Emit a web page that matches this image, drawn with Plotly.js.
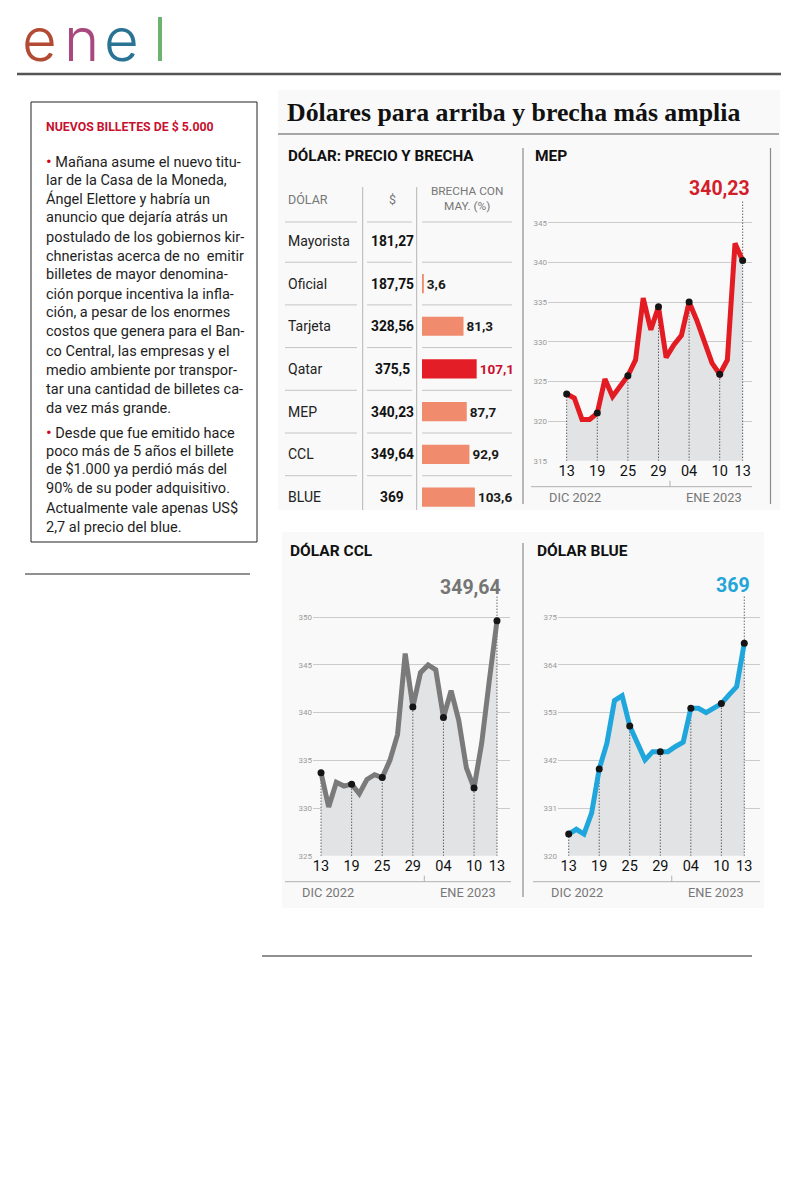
<!DOCTYPE html>
<html><head><meta charset="utf-8">
<script src="https://cdn.plot.ly/plotly-3.0.1.min.js"></script>
<style>html,body{margin:0;padding:0;background:#fff}#chart{width:800px;height:1200px}</style>
</head><body><div id="chart"></div>
<script>
// ---------- DATA ----------
const fechas = ['13 dic','14 dic','15 dic','16 dic','19 dic','20 dic','21 dic','22 dic','23 dic','26 dic','27 dic','28 dic','29 dic','30 dic','2 ene','3 ene','4 ene','5 ene','6 ene','9 ene','10 ene','11 ene','12 ene','13 ene'];
const fechasMarcadas = ['13 dic','19 dic','23 dic','29 dic','4 ene','10 ene','13 ene'];
const etiquetasFecha = ['13','19','25','29','04','10','13'];
const mep  = [323.4,322.9,320.2,320.2,321.0,325.3,323.1,324.3,325.7,327.7,335.5,331.5,334.4,328.0,329.6,330.8,335.0,332.7,329.8,327.3,325.9,327.7,342.4,340.23];
const ccl  = [333.7,330.1,332.7,332.3,332.5,331.5,333.0,333.5,333.2,335.0,337.7,346.2,340.6,344.2,345.0,344.5,339.5,342.3,339.2,334.2,332.1,336.8,343.4,349.64];
const blue = [325.0,326.1,325.0,329.8,340.0,345.9,355.8,356.9,349.9,345.9,342.1,344.0,344.0,344.0,345.2,346.2,354.0,354.0,353.0,354.0,355.1,357.1,359.0,369];
const tiposDolar = ['Mayorista','Oficial','Tarjeta','Qatar','MEP','CCL','BLUE'];
const precios = [181.27,187.75,328.56,375.5,340.23,349.64,369];
const brecha  = [null,3.6,81.3,107.1,87.7,92.9,103.6];
const mesIzq = 'DIC 2022', mesDer = 'ENE 2023';
const titulo = 'Dólares para arriba y brecha más amplia';
const recuadroTitulo = 'NUEVOS BILLETES DE $ 5.000';
const parrafo1 = ['Mañana asume el nuevo titu-','lar de la Casa de la Moneda,','Ángel Elettore y habría un','anuncio que dejaría atrás un','postulado de los gobiernos kir-','chneristas acerca de no  emitir','billetes de mayor denomina-','ción porque incentiva la infla-','ción, a pesar de los enormes','costos que genera para el Ban-','co Central, las empresas y el','medio ambiente por transpor-','tar una cantidad de billetes ca-','da vez más grande.'];
const parrafo2 = ['Desde que fue emitido hace','poco más de 5 años el billete','de $1.000 ya perdió más del','90% de su poder adquisitivo.','Actualmente vale apenas US$','2,7 al precio del blue.'];
const logoLetras = ['e','n','e','l'];

// ---------- HELPERS ----------
const W = 800, H = 1200;
const px = x => x / W, py = y => 1 - y / H;
const FONT = 'Roboto, "Open Sans", sans-serif';
const fmt = v => String(v).replace('.', ',');
const traces = [], shapes = [], annotations = [];
const layout = {
  width: W, height: H, margin: {l:0, r:0, t:0, b:0},
  paper_bgcolor: '#ffffff', plot_bgcolor: 'rgba(0,0,0,0)',
  showlegend: false, font: {family: FONT, color: '#222'},
  shapes, annotations
};
function hline(x0, x1, y, color, w) { shapes.push({type:'line', xref:'paper', yref:'paper', x0:px(x0), x1:px(x1), y0:py(y), y1:py(y), line:{color, width:w}}); }
function vline(x, y0, y1, color, w) { shapes.push({type:'line', xref:'paper', yref:'paper', x0:px(x), x1:px(x), y0:py(y0), y1:py(y1), line:{color, width:w}}); }
function txt(text, x, y, size, opts) {
  annotations.push(Object.assign({text, xref:'paper', yref:'paper', x:px(x), y:py(y), showarrow:false,
    xanchor:'left', yanchor:'middle', font:{family:FONT, size, color:'#222'}}, opts || {}));
}

// ---------- HEADER / LOGO ----------
const logoColores = ['#b34a33','#a9477f','#2a7394','#6bb36f'];
const logoX = [39, 81, 121, 160];
logoLetras.forEach((l, i) => annotations.push({xref:'paper', yref:'paper', x:px(logoX[i]), y:py(77), xanchor:'center', yanchor:'bottom', showarrow:false,
  text:l, font:{family:'Inter, Lato, "Open Sans", sans-serif', size:60, weight:300, color:logoColores[i]}}));
hline(17, 781, 74, '#555555', 2.5);

// ---------- LEFT BOX ----------
shapes.push({type:'rect', xref:'paper', yref:'paper', x0:px(31), x1:px(257), y0:py(542), y1:py(102), line:{color:'#222', width:1}});
txt('<b>' + recuadroTitulo + '</b>', 44, 127, 12.3, {font:{family:FONT, size:12.3, color:'#c8102e', weight:700}});
const bullet = '<span style="color:#d0021b;font-size:17px">•</span> ';
parrafo1.forEach((l, i) => txt((i === 0 ? bullet : '') + l, 44, 161 + i * 19, 14.5, {font:{family:FONT, size:14.5, color:'#1e1e1e'}}));
parrafo2.forEach((l, i) => txt((i === 0 ? bullet : '') + l, 44, 432 + i * 19, 14.5, {font:{family:FONT, size:14.5, color:'#1e1e1e'}}));
hline(25, 250, 574, '#222', 1);

// ---------- INFOGRAPHIC BACKGROUNDS ----------
shapes.push({type:'rect', layer:'below', xref:'paper', yref:'paper', x0:px(278), x1:px(780), y0:py(510), y1:py(90), fillcolor:'#f9f9f9', line:{width:0}});
shapes.push({type:'rect', layer:'below', xref:'paper', yref:'paper', x0:px(282), x1:px(764), y0:py(908), y1:py(532), fillcolor:'#f9f9f9', line:{width:0}});
txt('<b>' + titulo + '</b>', 285, 113, 25.8, {font:{family:'"Liberation Serif", "DejaVu Serif", serif', size:25.8, color:'#111'}});
hline(278, 779, 134, '#8a8a8a', 1.5);
hline(262, 752, 956, '#222', 1);

// ---------- TABLE ----------
txt('<b>DÓLAR: PRECIO Y BRECHA</b>', 286, 156, 15.2, {font:{family:FONT, size:15.2, color:'#111'}});
txt('DÓLAR', 286, 200, 12.5, {font:{family:FONT, size:12.5, color:'#777'}});
txt('$', 392, 200, 12.5, {xanchor:'center', font:{family:FONT, size:12.5, color:'#777'}});
txt('BRECHA CON<br>MAY. (%)', 467, 199, 11.8, {xanchor:'center', font:{family:FONT, size:11.8, color:'#777'}});
vline(362.7, 187, 510, '#b5b5b5', 1);
vline(416.7, 187, 510, '#b5b5b5', 1);
const rowTop = 219.5, rowH = 42.7;
[222].concat(tiposDolar.slice(0, -1).map((_, i) => rowTop + (i + 1) * rowH)).forEach(y => {
  hline(285, 357, y, '#c4c4c4', 1); hline(367, 412, y, '#c4c4c4', 1); hline(422, 512, y, '#c4c4c4', 1);
});
const colorBrecha = tiposDolar.map(t => t === 'Qatar' ? '#e41e26' : '#f08b6d');
const colorTexto  = tiposDolar.map(t => t === 'Qatar' ? '#c8102e' : '#1a1a1a');
traces.push({type:'bar', orientation:'h', x:brecha, y:tiposDolar, xaxis:'x', yaxis:'y', width:0.45,
  marker:{color:colorBrecha, line:{width:0}}, text:brecha.map(v => v == null ? '' : fmt(v)),
  textposition:'outside', cliponaxis:false, textfont:{family:FONT, size:13.5, color:colorTexto, weight:700}, hoverinfo:'skip'});
layout.xaxis = {domain:[px(422), px(520)], range:[0, 192], visible:false, fixedrange:true};
layout.yaxis = {domain:[py(rowTop + rowH * tiposDolar.length), py(rowTop)], type:'category', autorange:'reversed', visible:false, fixedrange:true};
tiposDolar.forEach((t, i) => {
  annotations.push({text:t, xref:'paper', yref:'y', x:px(286), y:t, xanchor:'left', yanchor:'middle', showarrow:false, font:{family:FONT, size:14, color:'#222'}});
  annotations.push({text:'<b>' + fmt(precios[i]) + '</b>', xref:'paper', yref:'y', x:px(392), y:t, xanchor:'center', yanchor:'middle', showarrow:false, font:{family:FONT, size:13.8, color:'#111'}});
});

// ---------- LINE CHARTS ----------
function panel(n, serie, color, cfg) {
  const xa = 'x' + n, ya = 'y' + n;
  const vals = fechasMarcadas.map(d => serie[fechas.indexOf(d)]);
  traces.push({type:'scatter', mode:'lines', x:fechas, y:serie, xaxis:xa, yaxis:ya, fill:'tozeroy', fillcolor:'#e2e3e5', line:{width:0, color:'rgba(0,0,0,0)'}, hoverinfo:'skip'});
  const dx = [], dy = [];
  fechasMarcadas.forEach((d, i) => { dx.push(d, d, null); dy.push(cfg.yr[0], i === fechasMarcadas.length - 1 ? cfg.yr[1] : vals[i], null); });
  traces.push({type:'scatter', mode:'lines', x:dx, y:dy, xaxis:xa, yaxis:ya, line:{color:'#222', width:1, dash:'1px,2px'}, hoverinfo:'skip'});
  traces.push({type:'scatter', mode:'lines', x:fechas, y:serie, xaxis:xa, yaxis:ya, line:{color, width:5, shape:'linear'}, hoverinfo:'skip'});
  traces.push({type:'scatter', mode:'markers', x:fechasMarcadas, y:vals, xaxis:xa, yaxis:ya, marker:{color:'#151515', size:7}, hoverinfo:'skip'});
  layout['xaxis' + n] = {domain:[px(cfg.xd[0]), px(cfg.xd[1])], type:'category', categoryorder:'array', categoryarray:fechas, range:cfg.xr,
    tickmode:'array', tickvals:fechasMarcadas, ticktext:etiquetasFecha, showgrid:false, zeroline:false, showline:false, ticks:'',
    tickfont:{family:FONT, size:14.5, color:'#111'}, fixedrange:true, anchor:ya};
  layout['yaxis' + n] = {domain:[py(cfg.yd[0]), py(cfg.yd[1])], range:cfg.yr, tick0:cfg.tick0, dtick:cfg.dtick, showgrid:true, gridcolor:'#cbcbcb', gridwidth:1,
    zeroline:false, showline:false, ticks:'', tickfont:{family:FONT, size:8, color:'#9a9a9a'}, fixedrange:true, anchor:xa};
  annotations.push({text:'<b>' + fmt(serie[serie.length - 1]) + '</b>', xref:'paper', yref:'paper', x:px(cfg.labX), y:py(cfg.labY), xanchor:'right', yanchor:'middle', showarrow:false, font:{family:FONT, size:19.5, color:cfg.labColor}});
  hline(cfg.sep[0], cfg.sep[1], cfg.sepY, '#b0b0b0', 1);
  const gap = fechas.indexOf('2 ene') - 0.5;
  shapes.push({type:'line', xref:xa, yref:'paper', x0:gap, x1:gap, y0:py(cfg.sepY - 6), y1:py(cfg.sepY), line:{color:'#b0b0b0', width:1}});
  txt(mesIzq, cfg.mes[0], cfg.sepY + 11, 12.8, {xanchor:'center', font:{family:FONT, size:12.8, color:'#777'}});
  txt(mesDer, cfg.mes[1], cfg.sepY + 11, 12.8, {xanchor:'center', font:{family:FONT, size:12.8, color:'#777'}});
  txt('<b>' + cfg.titulo + '</b>', cfg.tit[0], cfg.tit[1], 15.5, {font:{family:FONT, size:15.5, color:'#111'}});
}

panel(2, mep, '#e31b23', {xd:[548, 752], xr:[-2.44, 24.22], yd:[460.7, 200], yr:[315, 347.86], tick0:315, dtick:5,
  labX:752, labY:188, labColor:'#d21f2b', sep:[531, 752], sepY:486.7, mes:[575, 714], titulo:'MEP', tit:[533, 156]});
panel(3, ccl, '#7a7a7a', {xd:[313, 510], xr:[-1.05, 24.7], yd:[855.7, 595], yr:[325, 352.34], tick0:325, dtick:5,
  labX:503, labY:587, labColor:'#757575', sep:[285, 511], sepY:881.7, mes:[328, 468], titulo:'DÓLAR CCL', tit:[288, 551]});
panel(4, blue, '#1fa6dc', {xd:[558, 760], xr:[-1.4, 25.06], yd:[855.7, 595], yr:[320, 380.14], tick0:320, dtick:11,
  labX:752, labY:585, labColor:'#22a5d8', sep:[533, 760], sepY:881.7, mes:[577, 716], titulo:'DÓLAR BLUE', tit:[535, 551]});

// panel dividers
vline(523, 148, 504, '#8c8c8c', 1.2);
vline(770.5, 148, 504, '#8c8c8c', 1.2);
vline(523, 543, 897, '#8c8c8c', 1.2);

Plotly.newPlot('chart', traces, layout, {staticPlot:true, displayModeBar:false});
</script>
</body></html>
